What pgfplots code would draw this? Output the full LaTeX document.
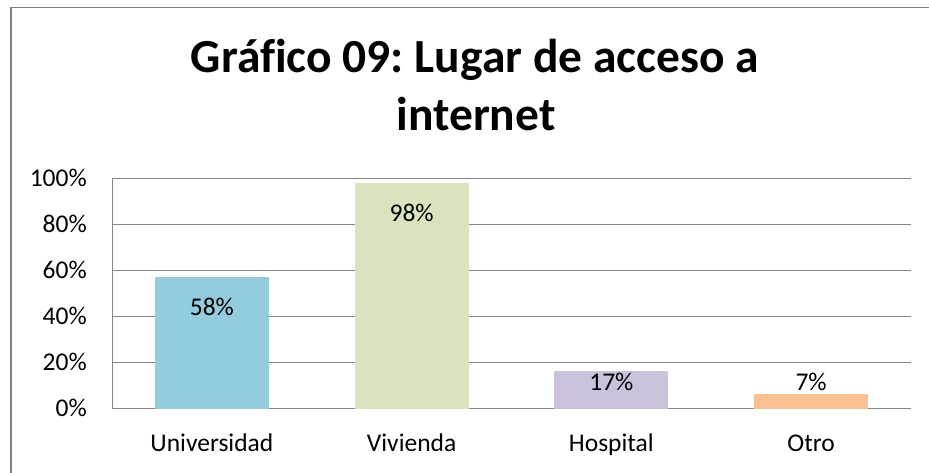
\documentclass[border=0pt]{standalone}
\usepackage{fontspec}
\setmainfont{Carlito}[Ligatures=NoCommon]
\usepackage{pgfplots}
\pgfplotsset{compat=1.18}
\frenchspacing
\definecolor{gridgray}{RGB}{134,134,134}
\definecolor{framegray}{RGB}{128,128,128}
\definecolor{cblue}{RGB}{147,205,221}
\definecolor{cgreen}{RGB}{215,228,189}
\definecolor{clav}{RGB}{204,193,218}
\definecolor{cpeach}{RGB}{250,192,144}
\begin{document}
\begin{tikzpicture}[x=1pt,y=1pt]
\useasboundingbox (0,0) rectangle (929,473);
\begin{scope}
\clip (0,0) rectangle (929,473);
\draw[framegray, line width=1.3pt] (11,-20) -- (11,465.5) -- (960,465.5);
\end{scope}
\node[font=\fontsize{47.5}{57}\selectfont\bfseries, anchor=base] at (475,400) {Gráfico 09: Lugar de acceso a};
\node[font=\fontsize{47.5}{57}\selectfont\bfseries, anchor=base] at (476,342) {internet};
\begin{axis}[
  at={(112pt,64pt)}, anchor=south west,
  scale only axis, width=799pt, height=230pt,
  xmin=-0.5, xmax=3.5, ymin=0, ymax=1,
  xtick={0,1,2,3}, xticklabels={Universidad,Vivienda,Hospital,Otro},
  ytick={0,0.2,0.4,0.6,0.8,1},
  yticklabels={0\%,20\%,40\%,60\%,80\%,100\%},
  ymajorgrids, grid style={gridgray, line width=1pt},
  axis x line*=bottom, axis y line*=left,
  axis line style={gridgray, line width=1pt, -},
  major tick length=0pt,
  tick label style={font=\fontsize{25.5}{30}\selectfont, inner sep=0pt},
  yticklabel style={anchor=base east, xshift=-25pt, yshift=-8pt},
  xticklabel style={anchor=base, yshift=-43pt},
  clip=false,
  ybar, bar width=114pt, bar shift=0pt,
]
\addplot[draw=none, fill=cblue] coordinates {(0,0.574)};
\addplot[draw=none, fill=cgreen] coordinates {(1,0.984)};
\addplot[draw=none, fill=clav] coordinates {(2,0.165)};
\addplot[draw=none, fill=cpeach] coordinates {(3,0.065)};
\node[font=\fontsize{25.5}{30}\selectfont, inner sep=0pt] at (axis cs:0,0.445) {58\%};
\node[font=\fontsize{25.5}{30}\selectfont, inner sep=0pt] at (axis cs:1,0.852) {98\%};
\node[font=\fontsize{25.5}{30}\selectfont, inner sep=0pt] at (axis cs:2,0.117) {17\%};
\node[font=\fontsize{25.5}{30}\selectfont, inner sep=0pt] at (axis cs:3,0.119) {7\%};
\end{axis}
\end{tikzpicture}
\end{document}
